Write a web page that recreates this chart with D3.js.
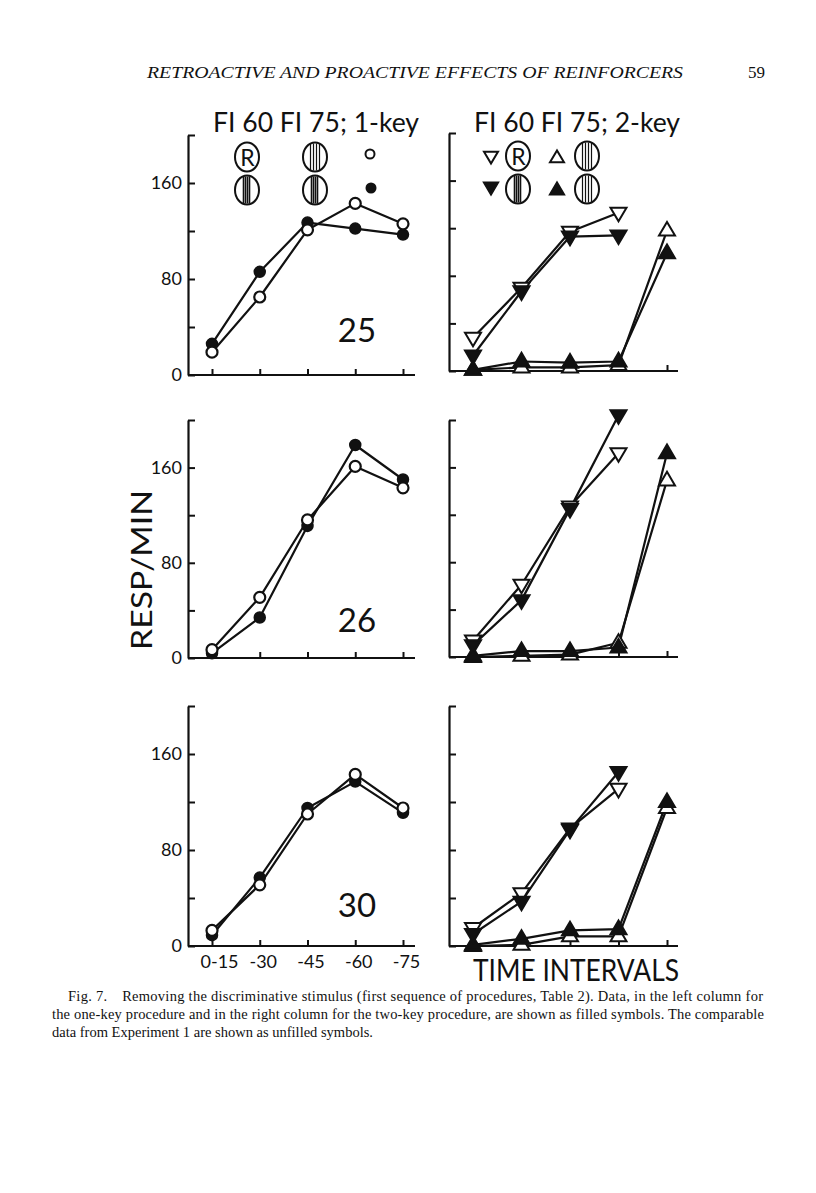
<!DOCTYPE html>
<html>
<head>
<meta charset="utf-8">
<script src="https://cdn.jsdelivr.net/npm/d3@7"></script>
<style>
html,body{margin:0;padding:0;background:#fff;}
svg{display:block;}
text{fill:#111;}
</style>
</head>
<body>
<div id="chart"></div>
<script>
// ---------------- DATA ----------------
const intervals = ["0-15", "-30", "-45", "-60", "-75"];
const intervalsFI60 = ["0-15", "-30", "-45", "-60"];
const yTickValues = [0, 40, 80, 120, 160, 200];
const yTickLabels = [0, 80, 160];
const birds = ["25", "26", "30"];

// one-key procedure (left column): filled = this experiment, open = Experiment 1
const oneKeyFilled25 = [26, 86, 127, 122, 117];
const oneKeyOpen25   = [19, 65, 121, 143, 126];
const oneKeyFilled26 = [4, 34, 111, 179, 150];
const oneKeyOpen26   = [7, 51, 116, 161, 143];
const oneKeyFilled30 = [9, 57, 115, 137, 111];
const oneKeyOpen30   = [13, 51, 110, 143, 115];

// two-key procedure (right column): FI 60 key (down triangles), FI 75 key (up triangles)
const fi60Filled25 = [13, 67, 113, 114];
const fi60Open25   = [28, 70, 117, 133];
const fi75Filled25 = [1, 8, 7, 8, 99];
const fi75Open25   = [1, 3, 3, 5, 118];

const fi60Filled26 = [10, 48, 125, 204];
const fi60Open26   = [14, 61, 127, 172];
const fi75Filled26 = [1, 5, 5, 8, 172];
const fi75Open26   = [0, 1, 2, 12, 149];

const fi60Filled30 = [10, 37, 97, 145];
const fi60Open30   = [15, 44, 98, 131];
const fi75Filled30 = [1, 6, 13, 14, 120];
const fi75Open30   = [0, 1, 8, 8, 115];

const leftData = [
  {open: oneKeyOpen25, filled: oneKeyFilled25},
  {open: oneKeyOpen26, filled: oneKeyFilled26},
  {open: oneKeyOpen30, filled: oneKeyFilled30}
];
const rightData = [
  {dOpen: fi60Open25, dFilled: fi60Filled25, uOpen: fi75Open25, uFilled: fi75Filled25},
  {dOpen: fi60Open26, dFilled: fi60Filled26, uOpen: fi75Open26, uFilled: fi75Filled26},
  {dOpen: fi60Open30, dFilled: fi60Filled30, uOpen: fi75Open30, uFilled: fi75Filled30}
];

// ---------------- LAYOUT ----------------
const W = 816, H = 1193;
const FONT = "Lato, 'Open Sans', sans-serif";
const FW = 400;
const leftAxisX = 188, rightAxisX = 449;
const leftPanels = [{top: 135, bottom: 375}, {top: 420, bottom: 658}, {top: 706, bottom: 946}];
const rightPanels = [{top: 133, bottom: 371}, {top: 420, bottom: 657}, {top: 706, bottom: 946}];

const svg = d3.select("#chart").append("svg").attr("width", W).attr("height", H)
  .attr("viewBox", `0 0 ${W} ${H}`);

const xLeft = d3.scalePoint().domain(intervals).range([212, 403]);
const xRight = d3.scalePoint().domain(intervals).range([473, 667]);

// triangle paths
const triDown = (s) => `M${-s},${-s*0.62}L${s},${-s*0.62}L0,${s*1.08}Z`;
const triUp = (s) => `M${-s},${s*0.62}L${s},${s*0.62}L0,${-s*1.08}Z`;

function drawAxes(g, x, y, xStart, xEnd, showYLabels, showXLabels) {
  const ya = d3.axisLeft(y).tickValues(yTickValues).tickSizeInner(-7).tickSizeOuter(0).tickPadding(6)
    .tickFormat(d => showYLabels && yTickLabels.includes(d) ? d : "");
  const yg = g.append("g").attr("transform", `translate(${xStart},0)`).call(ya);
  yg.select(".domain").attr("stroke", "#111").attr("stroke-width", 2.2);
  yg.selectAll(".tick line").attr("stroke", "#111").attr("stroke-width", 2);
  yg.selectAll(".tick text").attr("font-family", FONT).attr("font-weight", FW).attr("font-size", 18).attr("fill", "#111");

  const xa = d3.axisBottom(x).tickSizeInner(-6).tickSizeOuter(0).tickPadding(9)
    .tickFormat(d => showXLabels ? d : "");
  const xg = g.append("g").attr("transform", `translate(0,${y(0)})`).call(xa);
  xg.select(".domain").remove();
  xg.append("line").attr("x1", xStart).attr("x2", xEnd).attr("y1", 0).attr("y2", 0)
    .attr("stroke", "#111").attr("stroke-width", 2.2);
  xg.selectAll(".tick line").attr("stroke", "#111").attr("stroke-width", 2);
  xg.selectAll(".tick text").attr("font-family", FONT).attr("font-weight", FW).attr("font-size", 18).attr("fill", "#111")
    .attr("dx", (d, i) => i === 0 ? 7 : 3);
}

function drawLine(g, x, y, cats, vals) {
  const pts = vals.map((v, i) => [x(cats[i]), y(v)]);
  g.append("path").attr("d", d3.line()(pts)).attr("fill", "none")
    .attr("stroke", "#111").attr("stroke-width", 2.2).attr("stroke-linejoin", "round");
}

// ---------------- LEFT COLUMN ----------------
leftPanels.forEach((p, k) => {
  const y = d3.scaleLinear().domain([0, 200]).range([p.bottom, p.top]);
  const g = svg.append("g");
  drawAxes(g, xLeft, y, leftAxisX, 415, true, k === 2);
  const d = leftData[k];
  drawLine(g, xLeft, y, intervals, d.filled);
  drawLine(g, xLeft, y, intervals, d.open);
  g.selectAll(".mf").data(d.filled).join("circle")
    .attr("cx", (v, i) => xLeft(intervals[i])).attr("cy", v => y(v)).attr("r", 5.5)
    .attr("fill", "#111").attr("stroke", "#111").attr("stroke-width", 1.5);
  g.selectAll(".mo").data(d.open).join("circle")
    .attr("cx", (v, i) => xLeft(intervals[i])).attr("cy", v => y(v)).attr("r", 5.5)
    .attr("fill", "#fff").attr("stroke", "#111").attr("stroke-width", 2.2);
  g.append("text").attr("x", 357).attr("y", [342, 632, 917][k]).attr("text-anchor", "middle")
    .attr("font-family", FONT).attr("font-weight", FW).attr("font-size", 33).text(birds[k]);
});

// ---------------- RIGHT COLUMN ----------------
rightPanels.forEach((p, k) => {
  const y = d3.scaleLinear().domain([0, 200]).range([p.bottom, p.top]);
  const g = svg.append("g");
  drawAxes(g, xRight, y, rightAxisX, 678, false, false);
  const d = rightData[k];
  drawLine(g, xRight, y, intervals, d.uOpen);
  drawLine(g, xRight, y, intervals, d.uFilled);
  drawLine(g, xRight, y, intervalsFI60, d.dOpen);
  drawLine(g, xRight, y, intervalsFI60, d.dFilled);
  const mk = (vals, cats, path, filled) => {
    g.selectAll(null).data(vals).join("path")
      .attr("transform", (v, i) => `translate(${xRight(cats[i])},${y(v)})`)
      .attr("d", path(8))
      .attr("fill", filled ? "#111" : "#fff").attr("stroke", "#111").attr("stroke-width", 2)
      .attr("stroke-linejoin", "miter");
  };
  mk(d.uOpen, intervals, triUp, false);
  mk(d.uFilled, intervals, triUp, true);
  mk(d.dOpen, intervalsFI60, triDown, false);
  mk(d.dFilled, intervalsFI60, triDown, true);
});

// ---------------- LEGENDS ----------------
function keyR(cx, cy) {
  const g = svg.append("g").attr("transform", `translate(${cx},${cy})`);
  g.append("ellipse").attr("rx", 12).attr("ry", 14.5).attr("fill", "#fff").attr("stroke", "#111").attr("stroke-width", 2);
  g.append("text").attr("x", 0.5).attr("y", 8.5).attr("text-anchor", "middle")
    .attr("font-family", FONT).attr("font-weight", FW).attr("font-size", 23).text("R");
}
function keyStriped(cx, cy, dark) {
  const g = svg.append("g").attr("transform", `translate(${cx},${cy})`);
  g.append("ellipse").attr("rx", 12).attr("ry", 14.5).attr("fill", "#fff").attr("stroke", "#111").attr("stroke-width", 2);
  const xs = dark ? [-3.5, -1.5, 0.5, 2.5] : [-4.5, -1.5, 1.5, 4.5];
  xs.forEach(x => g.append("line").attr("x1", x).attr("x2", x).attr("y1", -13.5).attr("y2", 13.5)
    .attr("stroke", "#111").attr("stroke-width", dark ? 1.6 : 1.2));
}
svg.append("text").attr("x", 213).attr("y", 132).attr("font-family", FONT).attr("font-weight", FW).attr("font-size", 27)
  .attr("textLength", 206).attr("lengthAdjust", "spacingAndGlyphs").text("FI 60 FI 75; 1-key");
svg.append("text").attr("x", 474).attr("y", 132).attr("font-family", FONT).attr("font-weight", FW).attr("font-size", 27)
  .attr("textLength", 206).attr("lengthAdjust", "spacingAndGlyphs").text("FI 60 FI 75; 2-key");

keyR(247, 157); keyStriped(315, 157, false);
svg.append("circle").attr("cx", 370).attr("cy", 154).attr("r", 4.5).attr("fill", "#fff").attr("stroke", "#111").attr("stroke-width", 2);
keyStriped(247, 190, true); keyStriped(315, 190, true);
svg.append("circle").attr("cx", 371).attr("cy", 188).attr("r", 5.5).attr("fill", "#111");

svg.append("path").attr("transform", "translate(491,156)").attr("d", triDown(7)).attr("fill", "#fff").attr("stroke", "#111").attr("stroke-width", 2);
keyR(518, 156);
svg.append("path").attr("transform", "translate(557,158)").attr("d", triUp(7)).attr("fill", "#fff").attr("stroke", "#111").attr("stroke-width", 2);
keyStriped(587, 156, false);
svg.append("path").attr("transform", "translate(491,187)").attr("d", triDown(7.5)).attr("fill", "#111").attr("stroke", "#111").attr("stroke-width", 1.5);
keyStriped(518, 189, true);
svg.append("path").attr("transform", "translate(557,190)").attr("d", triUp(7.5)).attr("fill", "#111").attr("stroke", "#111").attr("stroke-width", 1.5);
keyStriped(587, 189, false);

// ---------------- AXIS TITLES ----------------
svg.append("text").attr("transform", "translate(152,570) rotate(-90)").attr("text-anchor", "middle")
  .attr("font-family", FONT).attr("font-weight", FW).attr("font-size", 29).attr("textLength", 160).attr("lengthAdjust", "spacingAndGlyphs")
  .text("RESP/MIN");
svg.append("text").attr("x", 473).attr("y", 981).attr("font-family", FONT).attr("font-weight", FW).attr("font-size", 30)
  .attr("textLength", 206).attr("lengthAdjust", "spacingAndGlyphs").text("TIME INTERVALS");

// ---------------- PAGE HEADER & CAPTION ----------------
const SERIF = "'Liberation Serif', 'DejaVu Serif', serif";
svg.append("text").attr("x", 147).attr("y", 78).attr("font-family", SERIF).attr("font-style", "italic")
  .attr("font-size", 17).attr("textLength", 536).attr("lengthAdjust", "spacingAndGlyphs")
  .text("RETROACTIVE AND PROACTIVE EFFECTS OF REINFORCERS");
svg.append("text").attr("x", 748).attr("y", 78).attr("font-family", SERIF).attr("font-size", 17).text("59");

const captionLines = [
  {x: 68, y: 1001, len: 695, t: "Fig. 7.\u2003Removing the discriminative stimulus (first sequence of procedures, Table 2). Data, in the left column for"},
  {x: 52, y: 1019, len: 712, t: "the one-key procedure and in the right column for the two-key procedure, are shown as filled symbols. The comparable"},
  {x: 52, y: 1037, len: null, t: "data from Experiment 1 are shown as unfilled symbols."}
];
captionLines.forEach(c => {
  const t = svg.append("text").attr("x", c.x).attr("y", c.y).attr("font-family", SERIF)
    .attr("font-size", 14.5).text(c.t);
  if (c.len) t.attr("textLength", c.len).attr("lengthAdjust", "spacing");
});
</script>
</body>
</html>
